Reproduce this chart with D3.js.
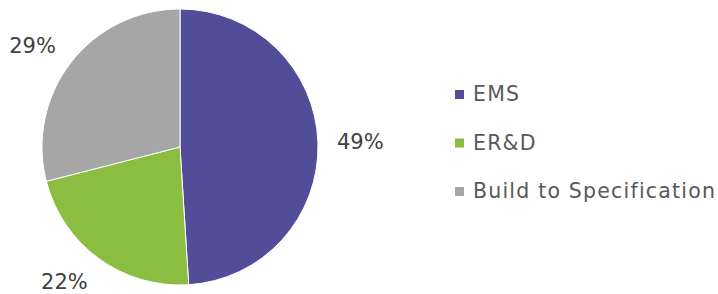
<!DOCTYPE html>
<html>
<head>
<meta charset="utf-8">
<script src="https://cdn.jsdelivr.net/npm/d3@7"></script>
<style>
  body { margin: 0; background: #fff; }
  text { font-family: "DejaVu Sans", sans-serif; }
</style>
</head>
<body>
<div id="chart"></div>
<script>
const categories = ["EMS", "ER&D", "Build to Specification"];
const shares = [49, 22, 29];
const sliceColors = ["#524D99", "#8BBE40", "#A6A6A6"];

const width = 718;
const height = 294;
const cx = 180, cy = 147, radius = 138;

const svg = d3.select("#chart")
  .append("svg")
  .attr("width", width)
  .attr("height", height);

const pie = d3.pie().sort(null).value(d => d.value);
const arcs = pie(categories.map((c, i) => ({ name: c, value: shares[i], color: sliceColors[i] })));

const arc = d3.arc().innerRadius(0).outerRadius(radius);
const labelArc = d3.arc().innerRadius(157).outerRadius(157);

const g = svg.append("g").attr("transform", `translate(${cx},${cy})`);

g.selectAll("path")
  .data(arcs)
  .enter()
  .append("path")
  .attr("d", arc)
  .attr("fill", d => d.data.color)
  .attr("stroke", "#fff")
  .attr("stroke-width", 1);

// étiquettes à l'extérieur, comme Excel : le coin le plus proche touche le point d'ancrage
const midAngle = d => (d.startAngle + d.endAngle) / 2;
const labelH = 18;

g.selectAll("text.pct")
  .data(arcs)
  .enter()
  .append("text")
  .attr("class", "pct")
  .attr("transform", d => {
    const [x, y] = labelArc.centroid(d);
    return `translate(${x},${y - Math.cos(midAngle(d)) * labelH / 2})`;
  })
  .attr("text-anchor", d => Math.sin(midAngle(d)) >= 0 ? "start" : "end")
  .attr("dy", "0.36em")
  .style("font-size", "21px")
  .style("fill", "#404040")
  .text(d => d.data.value + "%");

// légende
const legend = svg.append("g").attr("transform", "translate(455,94)");
const rowStep = 48.5;

categories.forEach((c, i) => {
  const row = legend.append("g").attr("transform", `translate(0,${i * rowStep})`);
  row.append("rect")
    .attr("x", 0)
    .attr("y", -4)
    .attr("width", 9)
    .attr("height", 9)
    .attr("fill", sliceColors[i]);
  row.append("text")
    .attr("x", 18)
    .attr("y", 0)
    .attr("dy", "0.36em")
    .style("font-size", "20.5px")
    .style("letter-spacing", "1.2px")
    .style("fill", "#595959")
    .text(c);
});
</script>
</body>
</html>
